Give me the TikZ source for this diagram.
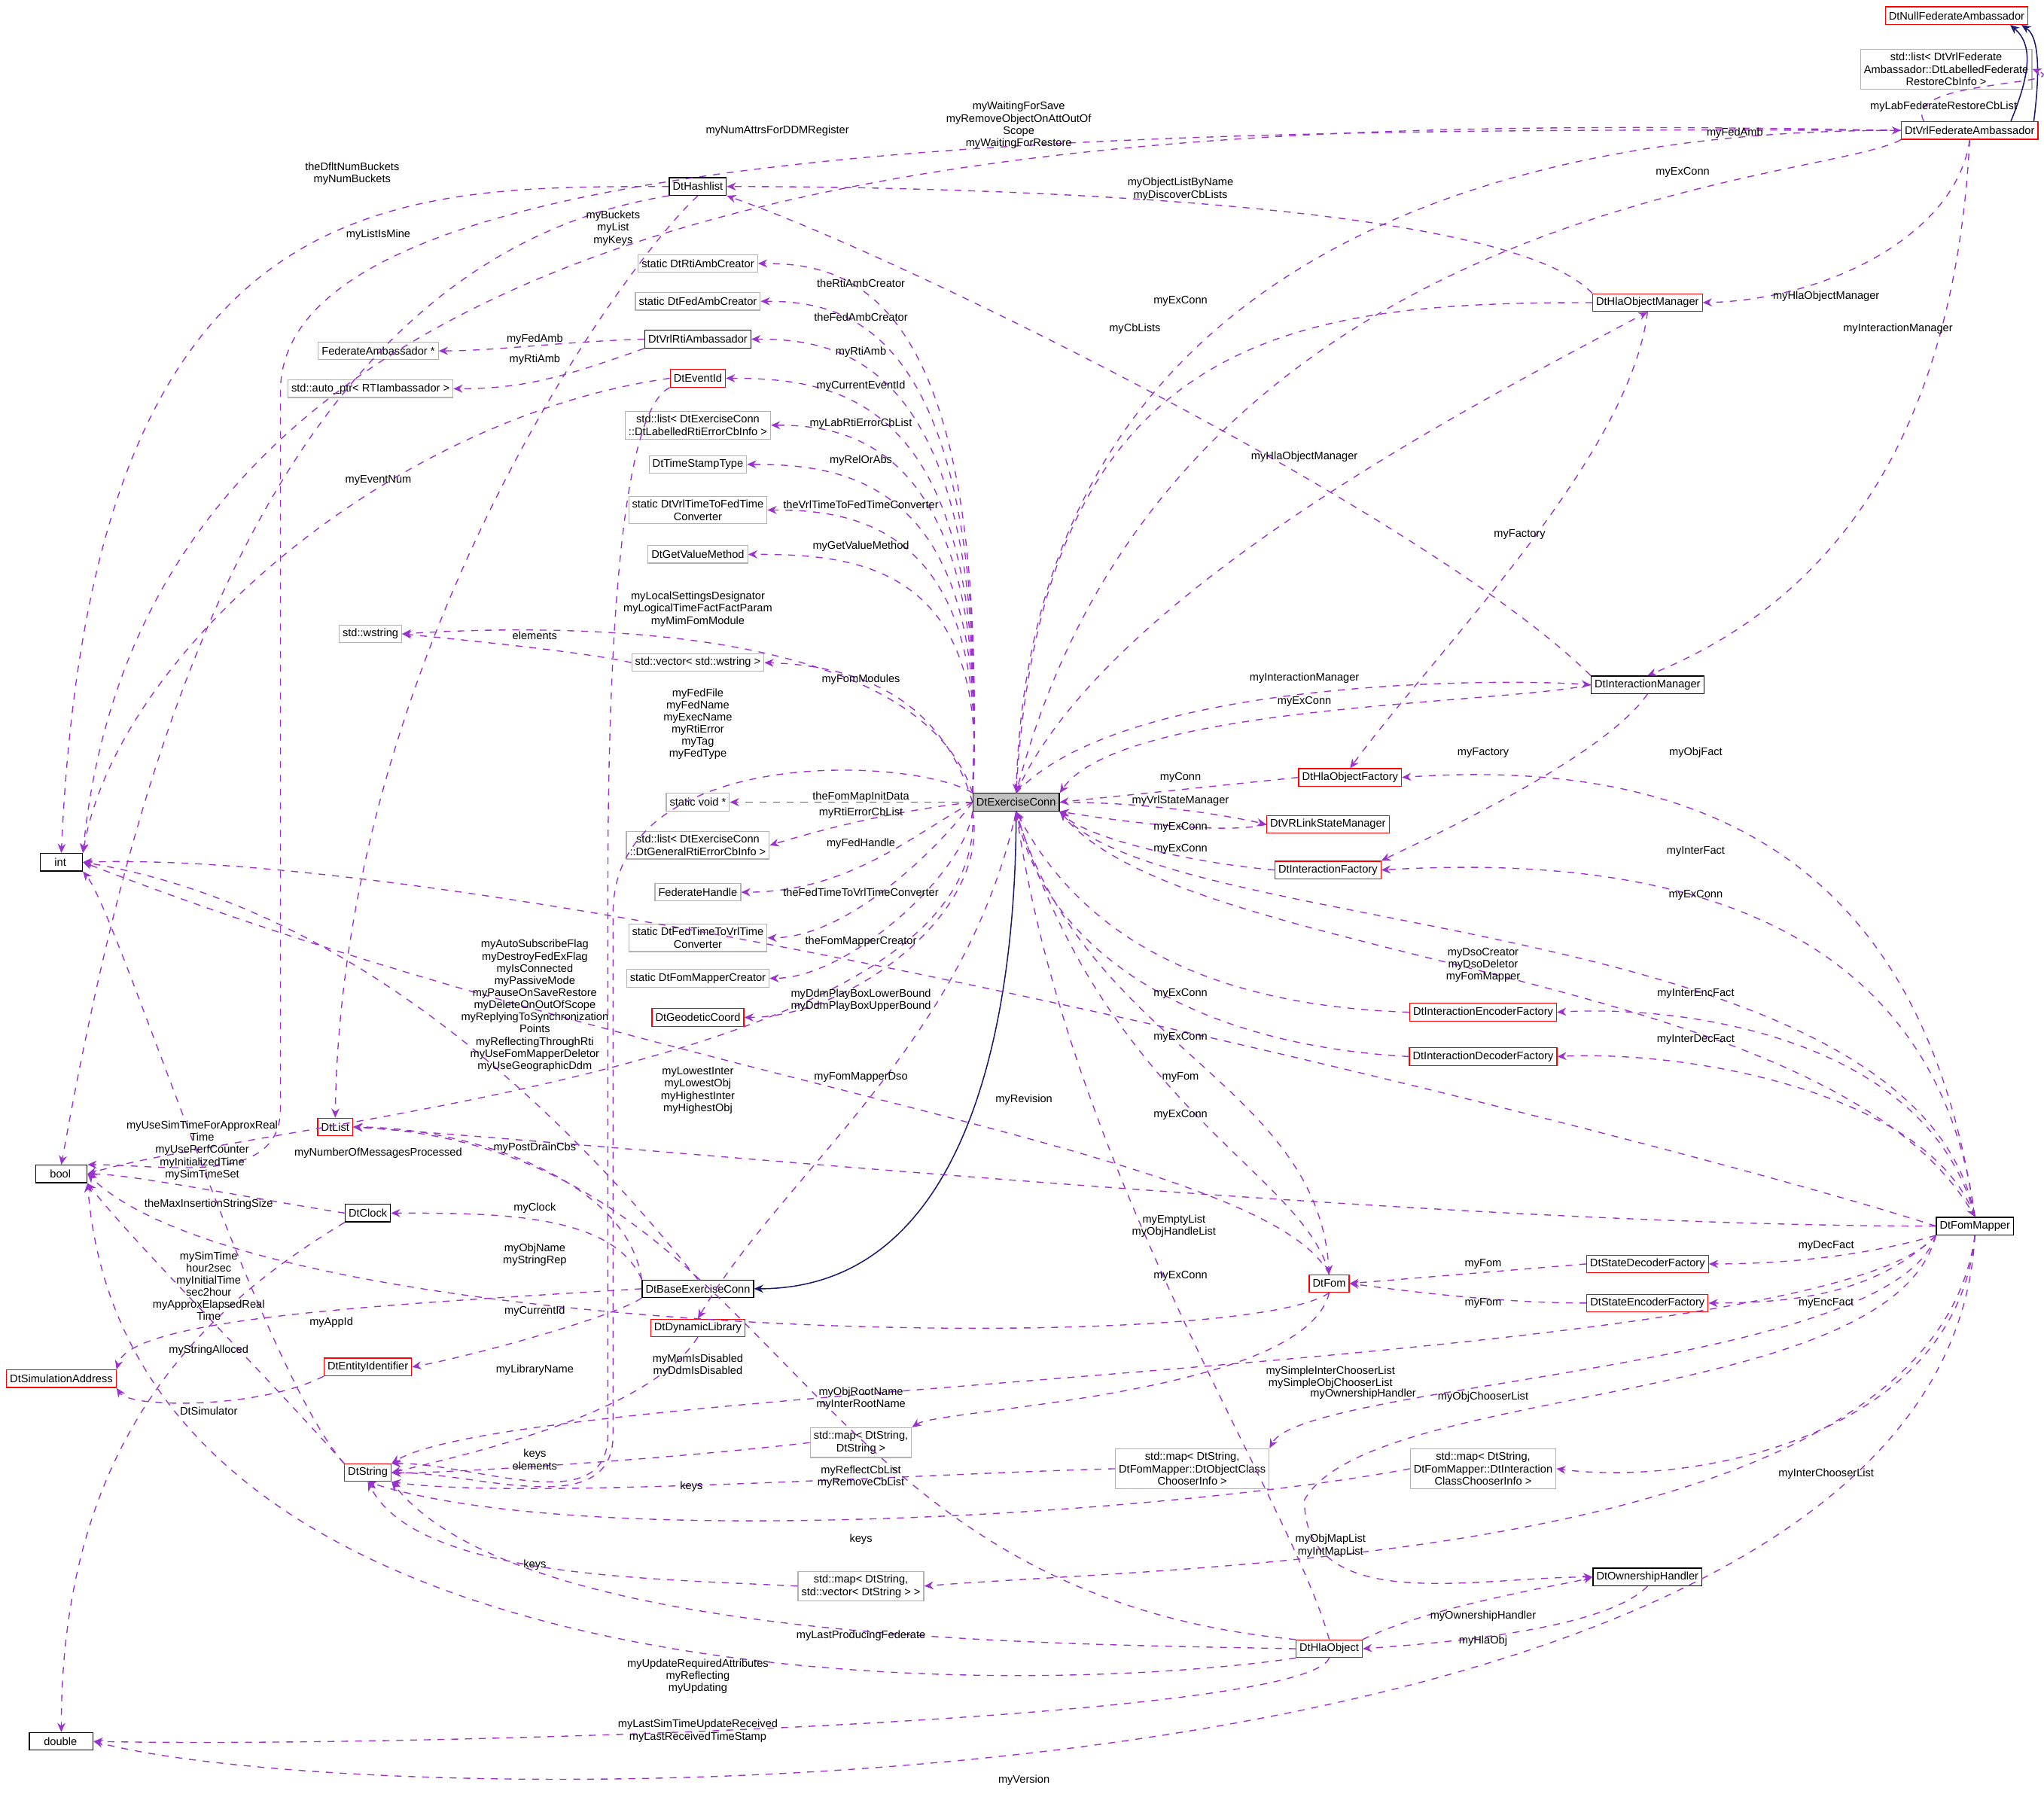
\documentclass[tikz,border=0pt]{standalone}
\usepackage{fontspec}
\setmainfont{Liberation Sans}
\usetikzlibrary{arrows.meta}
\definecolor{ec}{HTML}{9A32CD}
\definecolor{nv}{HTML}{191970}
\begin{document}
\begin{tikzpicture}[x=0.02cm,y=-0.02cm,
 font=\fontsize{4.8}{5.5}\selectfont,
 b/.style={draw=black,fill=white,inner sep=1.5pt,minimum height=0.27cm,align=center,line width=0.4pt},
 r/.style={b,draw=red},
 g/.style={b,draw=black!30},
 m/.style={b,fill=black!25},
 e/.style={draw=ec,dashed,line width=0.45pt,-{Stealth[length=4pt,width=3.5pt]}},
 n/.style={draw=nv,line width=0.5pt,-{Stealth[length=4pt,width=3.5pt]}},
 l/.style={align=center,inner sep=0pt,font=\fontsize{4.8}{5.3}\selectfont}]
\useasboundingbox (0,0) rectangle (1567,1375);
% nodes
\node[r] (nfa) at (1500,12) {DtNullFederateAmbassador};
\node[g] (lfr) at (1492,53) {std::list< DtVrlFederate\\Ambassador::DtLabelledFederate\\RestoreCbInfo >};
\node[r] (vfa) at (1510,100) {DtVrlFederateAmbassador};
\node[b] (int) at (47,661) {\quad int\quad\,};
\node[b] (hash) at (535,143) {DtHashlist};
\node[g] (rac) at (535,202) {static DtRtiAmbCreator};
\node[g] (fac) at (535,231) {static DtFedAmbCreator};
\node[g] (fap) at (290,269) {FederateAmbassador *};
\node[b] (vra) at (535,260) {DtVrlRtiAmbassador};
\node[g] (ap) at (284,298) {std::auto\_ptr< RTIambassador >};
\node[r] (eid) at (535,290) {DtEventId};
\node[g] (lle) at (535,326) {std::list< DtExerciseConn\\::DtLabelledRtiErrorCbInfo >};
\node[g] (tst) at (535,356) {DtTimeStampType};
\node[g] (vtf) at (535,391) {static DtVrlTimeToFedTime\\Converter};
\node[g] (gvm) at (535,425) {DtGetValueMethod};
\node[g] (ws) at (284,486) {std::wstring};
\node[g] (vws) at (535,508) {std::vector< std::wstring >};
\node[m] (ec) at (779,615) {DtExerciseConn};
\node[g] (sv) at (535,615) {static void *};
\node[g] (lge) at (535,648) {std::list< DtExerciseConn\\::DtGeneralRtiErrorCbInfo >};
\node[g] (fh) at (535,684) {FederateHandle};
\node[g] (ftv) at (535,719) {static DtFedTimeToVrlTime\\Converter};
\node[g] (fmc) at (535,750) {static DtFomMapperCreator};
\node[r] (geo) at (535,780) {DtGeodeticCoord};
\node[r] (hom) at (1263,232) {DtHlaObjectManager};
\node[b] (im) at (1263,525) {DtInteractionManager};
\node[r] (hof) at (1035,596) {DtHlaObjectFactory};
\node[r] (vsm) at (1018,632) {DtVRLinkStateManager};
\node[r] (ifa) at (1018,667) {DtInteractionFactory};
\node[r] (ief) at (1137,776) {DtInteractionEncoderFactory};
\node[r] (idf) at (1137,810) {DtInteractionDecoderFactory};
\node[b] (fm) at (1514,940) {DtFomMapper};
\node[b] (bool) at (47,900) {\quad bool\quad\,};
\node[r] (list) at (257,864) {DtList};
\node[b] (clk) at (282,930) {DtClock};
\node[b] (bec) at (535,988) {DtBaseExerciseConn};
\node[r] (sdf) at (1263,969) {DtStateDecoderFactory};
\node[r] (sef) at (1263,999) {DtStateEncoderFactory};
\node[r] (fom) at (1019,984) {DtFom};
\node[r] (dl) at (535,1018) {DtDynamicLibrary};
\node[r] (sa) at (47,1057) {DtSimulationAddress};
\node[r] (ent) at (282,1048) {DtEntityIdentifier};
\node[r] (str) at (282,1129) {DtString};
\node[g] (mss) at (660,1106) {std::map< DtString,\\DtString >};
\node[g] (moc) at (914,1126) {std::map< DtString,\\DtFomMapper::DtObjectClass\\ChooserInfo >};
\node[g] (mic) at (1137,1126) {std::map< DtString,\\DtFomMapper::DtInteraction\\ClassChooserInfo >};
\node[g] (msv) at (660,1216) {std::map< DtString,\\std::vector< DtString > >};
\node[b] (own) at (1263,1209) {DtOwnershipHandler};
\node[r] (ho) at (1019,1264) {DtHlaObject};
\node[b] (dbl) at (47,1335) {\quad double\quad\,};
% inheritance
\draw[n] ([xshift=28]vfa.north) .. controls (1562,70) and (1566,30) .. ([xshift=-3]nfa.south east);
\draw[n] ([xshift=18]vfa.north) .. controls (1555,60) and (1560,35) .. ([xshift=-8]nfa.south east);
\draw[n] (ec.south) to[out=-90,in=0] (bec.east);
% edges
\draw[e] ([xshift=-20]vfa.north) to[out=120,in=-20] (lfr.east);
\draw[e] (vfa.west) .. controls (900,90) and (120,90) .. (int.north east);
\draw[e] (vfa.west) .. controls (900,98) and (215,100) .. (215,300) -- (215,850) to[out=-90,in=0] (bool.north east);
\draw[e] (ec.north) .. controls (790,120) and (1300,100) .. (vfa.west);
\draw[e] (vfa.south west) .. controls (1400,140) and (900,150) .. (ec.north);
\draw[e] (vfa.south) .. controls (1500,180) and (1400,230) .. (hom.east);
\draw[e] (vfa.south) .. controls (1500,300) and (1430,450) .. (im.north);
\draw[e] (hom.north west) .. controls (1150,150) and (700,143) .. (hash.east);
\draw[e] (hom.west) .. controls (1000,232) and (800,250) .. (ec.north);
\draw[e] (ec.north) .. controls (850,450) and (1150,300) .. (hom.south);
\draw[e] (hom.south) .. controls (1250,350) and (1100,500) .. (hof.north);
\draw[e] (im.north west) .. controls (1100,400) and (700,200) .. (hash.south east);
\draw[e] (ec.north) .. controls (860,520) and (1150,520) .. (im.west);
\draw[e] (im.west) .. controls (1150,540) and (860,540) .. (ec.north east);
\draw[e] (im.south) .. controls (1230,580) and (1100,640) .. (ifa.north east);
\draw[e] (hof.west) -- (ec.east);
\draw[e] (ec.east) .. controls (880,615) and (940,625) .. (vsm.west);
\draw[e] (vsm.west) .. controls (940,640) and (860,630) .. (ec.south east);
\draw[e] (ifa.west) .. controls (900,660) and (830,640) .. (ec.south east);
\draw[e] (fm.north) .. controls (1480,700) and (1350,577) .. (hof.east);
\draw[e] (fm.north) .. controls (1490,750) and (1350,650) .. (ifa.east);
\draw[e] (fm.north) .. controls (1470,700) and (900,720) .. (ec.south east);
\draw[e] (ec.south east) .. controls (900,740) and (1400,740) .. (fm.north);
\draw[e] (ief.west) .. controls (900,770) and (820,700) .. (ec.south);
\draw[e] (fm.north) .. controls (1480,800) and (1300,770) .. (ief.east);
\draw[e] (idf.west) .. controls (900,800) and (800,720) .. (ec.south);
\draw[e] (fm.north) .. controls (1480,840) and (1300,805) .. (idf.east);
\draw[e] (fm.west) .. controls (1300,880) and (400,650) .. (int.east);
\draw[e] (fom.north) .. controls (1000,900) and (850,850) .. (ec.south);
\draw[e] (ec.south) .. controls (830,800) and (1010,830) .. (fom.north);
\draw[e] (fm.west) .. controls (1100,940) and (500,880) .. (list.east);
\draw[e] (fm.south west) .. controls (1440,960) and (1380,969) .. (sdf.east);
\draw[e] (fm.south west) .. controls (1440,990) and (1380,999) .. (sef.east);
\draw[e] (sdf.west) -- (fom.east);
\draw[e] (sef.west) .. controls (1150,999) and (1080,990) .. (fom.east);
\draw[e] (fom.north) .. controls (970,880) and (500,830) .. (int.east);
\draw[e] (fom.south) .. controls (950,1040) and (200,1030) .. (bool.east);
\draw[e] (fom.south) .. controls (1000,1070) and (720,1080) .. (mss.north east);
\draw[e] (fm.south west) .. controls (1450,1080) and (1050,1060) .. (1000,1150) to[out=-90,in=180] (own.west);
\draw[e] (fm.south west) .. controls (1450,1050) and (1000,1060) .. (moc.north east);
\draw[e] (fm.south) .. controls (1500,1100) and (1300,1140) .. (mic.east);
\draw[e] (fm.south west) .. controls (1400,1050) and (400,1060) .. (str.north east);
\draw[e] (fm.south) .. controls (1480,1200) and (900,1200) .. (msv.east);
\draw[e] (fm.south) .. controls (1490,1400) and (300,1395) .. (dbl.east);
\draw[e] (ho.north east) .. controls (1100,1230) and (1200,1215) .. (own.west);
\draw[e] (own.south) .. controls (1230,1250) and (1100,1260) .. (ho.east);
\draw[e] (ho.west) .. controls (800,1260) and (400,1260) .. (str.south east);
\draw[e] (ho.south west) .. controls (800,1300) and (100,1320) .. (bool.south east);
\draw[e] (ho.south) .. controls (1000,1320) and (300,1340) .. (dbl.east);
\draw[e] (ho.north) .. controls (990,1150) and (820,900) .. (ec.south);
\draw[e] (ho.north west) .. controls (600,1220) and (600,880) .. (list.east);
\draw[e] (mss.west) .. controls (500,1120) and (330,1130) .. (str.east);
\draw[e] (moc.west) .. controls (700,1130) and (400,1150) .. (str.south east);
\draw[e] (mic.west) .. controls (900,1160) and (450,1190) .. (str.south);
\draw[e] (msv.west) .. controls (500,1210) and (320,1210) .. (str.south);
\draw[e] (vws.west) .. controls (450,500) and (350,490) .. (ws.east);
\draw[e] (ec.north west) .. controls (700,470) and (400,480) .. (ws.east);
\draw[e] (ec.west) .. controls (720,530) and (650,510) .. (vws.east);
\draw[e] (ec.north west) .. controls (700,580) and (470,570) .. (470,700) -- (470,1100) to[out=-90,in=0] (str.east);
\draw[e] (ec.west) -- (sv.east);
\draw[e] (ec.west) .. controls (700,620) and (650,630) .. (lge.east);
\draw[e] (ec.west) .. controls (700,640) and (650,684) .. (fh.east);
\draw[e] (ec.west) .. controls (720,650) and (650,719) .. (ftv.east);
\draw[e] (ec.south west) .. controls (740,670) and (650,750) .. (fmc.east);
\draw[e] (ec.south west) .. controls (760,700) and (650,780) .. (geo.east);
\draw[e] (ec.south west) .. controls (760,820) and (200,860) .. (bool.east);
\draw[e] (ec.south) .. controls (740,800) and (600,900) .. (dl.north);
\draw[e] (bec.north) .. controls (470,900) and (300,700) .. (int.east);
\draw[e] (ec.north west) .. controls (760,220) and (650,202) .. (rac.east);
\draw[e] (ec.north west) .. controls (760,250) and (650,231) .. (fac.east);
\draw[e] (ec.north west) .. controls (760,280) and (650,260) .. (vra.east);
\draw[e] (ec.north west) .. controls (760,310) and (650,290) .. (eid.east);
\draw[e] (ec.north west) .. controls (760,340) and (650,326) .. (lle.east);
\draw[e] (ec.north west) .. controls (760,370) and (650,356) .. (tst.east);
\draw[e] (ec.north west) .. controls (760,400) and (650,391) .. (vtf.east);
\draw[e] (ec.north west) .. controls (760,430) and (650,425) .. (gvm.east);
\draw[e] (vra.west) .. controls (430,262) and (380,269) .. (fap.east);
\draw[e] (vra.south west) .. controls (430,290) and (400,298) .. (ap.east);
\draw[e] (eid.west) .. controls (300,320) and (90,500) .. (int.north east);
\draw[e] (eid.south west) .. controls (466,320) and (466,600) .. (466,700) -- (466,1100) to[out=-90,in=0] (str.north east);
\draw[e] (hash.west) .. controls (300,143) and (70,140) .. (int.north);
\draw[e] (hash.south west) .. controls (200,200) and (100,600) .. (bool.north);
\draw[e] (hash.south) .. controls (480,200) and (262,500) .. (list.north);
\draw[e] (bec.north west) .. controls (480,900) and (350,864) .. (list.east);
\draw[e] (bec.north west) .. controls (470,930) and (380,930) .. (clk.east);
\draw[e] (bec.south west) .. controls (470,1010) and (360,1040) .. (ent.east);
\draw[e] (bec.west) .. controls (300,1000) and (100,1010) .. (sa.north east);
\draw[e] (clk.west) .. controls (200,920) and (100,900) .. (bool.east);
\draw[e] (clk.south west) .. controls (160,1000) and (47,1100) .. (dbl.north);
\draw[e] (ent.south west) .. controls (200,1080) and (100,1080) .. (sa.south east);
\draw[e] (str.north west) .. controls (200,1050) and (90,700) .. (int.south east);
\draw[e] (str.north west) .. controls (200,1050) and (100,950) .. (bool.south east);
\draw[e] (dl.south) .. controls (500,1080) and (380,1110) .. (str.east);
% labels
\node[l] (a1) at (1490,82) {myLabFederateRestoreCbList};
\node[l] (a2) at (596,100) {myNumAttrsForDDMRegister};
\node[l] (a3) at (781,96) {myWaitingForSave\\myRemoveObjectOnAttOutOf\\Scope\\myWaitingForRestore};
\node[l] (a4) at (1330,102) {myFedAmb};
\node[l] (a5) at (1290,132) {myExConn};
\node[l] (a6) at (1400,227) {myHlaObjectManager};
\node[l] (a7) at (1455,252) {myInteractionManager};
\node[l] (a8) at (905,145) {myObjectListByName\\myDiscoverCbLists};
\node[l] (a9) at (905,231) {myExConn};
\node[l] (a10) at (1000,350) {myHlaObjectManager};
\node[l] (a11) at (1165,410) {myFactory};
\node[l] (a12) at (870,252) {myCbLists};
\node[l] (a13) at (1000,520) {myInteractionManager};
\node[l] (a14) at (1000,538) {myExConn};
\node[l] (a15) at (1137,577) {myFactory};
\node[l] (a16) at (905,596) {myConn};
\node[l] (a17) at (905,614) {myVrlStateManager};
\node[l] (a18) at (905,634) {myExConn};
\node[l] (a19) at (905,651) {myExConn};
\node[l] (a20) at (1300,577) {myObjFact};
\node[l] (a21) at (1300,653) {myInterFact};
\node[l] (a22) at (1300,686) {myExConn};
\node[l] (a23) at (1137,740) {myDsoCreator\\myDsoDeletor\\myFomMapper};
\node[l] (a24) at (905,762) {myExConn};
\node[l] (a25) at (1300,762) {myInterEncFact};
\node[l] (a26) at (905,795) {myExConn};
\node[l] (a27) at (1300,797) {myInterDecFact};
\node[l] (a28) at (785,843) {myRevision};
\node[l] (a29) at (905,826) {myFom};
\node[l] (a30) at (905,855) {myExConn};
\node[l] (a31) at (900,940) {myEmptyList\\myObjHandleList};
\node[l] (a32) at (1400,955) {myDecFact};
\node[l] (a33) at (1400,999) {myEncFact};
\node[l] (a34) at (1137,969) {myFom};
\node[l] (a35) at (1137,999) {myFom};
\node[l] (a36) at (535,836) {myLowestInter\\myLowestObj\\myHighestInter\\myHighestObj};
\node[l] (a37) at (535,1047) {myMomIsDisabled\\myDdmIsDisabled};
\node[l] (a38) at (660,1072) {myObjRootName\\myInterRootName};
\node[l] (a39) at (1045,1069) {myOwnershipHandler};
\node[l] (a40) at (1137,1071) {myObjChooserList};
\node[l] (a41) at (1400,1130) {myInterChooserList};
\node[l] (a42) at (1020,1056) {mySimpleInterChooserList\\mySimpleObjChooserList};
\node[l] (a43) at (1020,1185) {myObjMapList\\myIntMapList};
\node[l] (a44) at (785,1365) {myVersion};
\node[l] (a45) at (1137,1239) {myOwnershipHandler};
\node[l] (a46) at (1137,1258) {myHlaObj};
\node[l] (a47) at (660,1254) {myLastProducingFederate};
\node[l] (a48) at (535,1285) {myUpdateRequiredAttributes\\myReflecting\\myUpdating};
\node[l] (a49) at (535,1327) {myLastSimTimeUpdateReceived\\myLastReceivedTimeStamp};
\node[l] (a50) at (905,978) {myExConn};
\node[l] (a51) at (660,1132) {myReflectCbList\\myRemoveCbList};
\node[l] (a52) at (410,1119) {keys\\elements};
\node[l] (a53) at (530,1140) {keys};
\node[l] (a54) at (660,1180) {keys};
\node[l] (a55) at (410,1200) {keys};
\node[l] (a56) at (410,487) {elements};
\node[l] (a57) at (535,467) {myLocalSettingsDesignator\\myLogicalTimeFactFactParam\\myMimFomModule};
\node[l] (a58) at (660,521) {myFomModules};
\node[l] (a59) at (535,555) {myFedFile\\myFedName\\myExecName\\myRtiError\\myTag\\myFedType};
\node[l] (a60) at (660,611) {theFomMapInitData};
\node[l] (a61) at (660,623) {myRtiErrorCbList};
\node[l] (a62) at (660,647) {myFedHandle};
\node[l] (a63) at (660,684) {theFedTimeToVrlTimeConverter};
\node[l] (a64) at (660,722) {theFomMapperCreator};
\node[l] (a65) at (660,767) {myDdmPlayBoxLowerBound\\myDdmPlayBoxUpperBound};
\node[l] (a66) at (410,771) {myAutoSubscribeFlag\\myDestroyFedExFlag\\myIsConnected\\myPassiveMode\\myPauseOnSaveRestore\\myDeleteOnOutOfScope\\myReplyingToSynchronization\\Points\\myReflectingThroughRti\\myUseFomMapperDeletor\\myUseGeographicDdm};
\node[l] (a67) at (660,826) {myFomMapperDso};
\node[l] (a68) at (290,884) {myNumberOfMessagesProcessed};
\node[l] (a69) at (660,217) {theRtiAmbCreator};
\node[l] (a70) at (660,243) {theFedAmbCreator};
\node[l] (a71) at (660,270) {myRtiAmb};
\node[l] (a72) at (660,296) {myCurrentEventId};
\node[l] (a73) at (660,325) {myLabRtiErrorCbList};
\node[l] (a74) at (660,353) {myRelOrAbs};
\node[l] (a75) at (660,387) {theVrlTimeToFedTimeConverter};
\node[l] (a76) at (660,419) {myGetValueMethod};
\node[l] (a77) at (410,260) {myFedAmb};
\node[l] (a78) at (410,276) {myRtiAmb};
\node[l] (a79) at (290,368) {myEventNum};
\node[l] (a80) at (270,133) {theDfltNumBuckets\\myNumBuckets};
\node[l] (a81) at (290,180) {myListIsMine};
\node[l] (a82) at (470,175) {myBuckets\\myList\\myKeys};
\node[l] (a83) at (410,880) {myPostDrainCbs};
\node[l] (a84) at (410,926) {myClock};
\node[l] (a85) at (410,1005) {myCurrentId};
\node[l] (a86) at (254,1014) {myAppId};
\node[l] (a87) at (155,882) {myUseSimTimeForApproxReal\\Time\\myUsePerfCounter\\myInitializedTime\\mySimTimeSet};
\node[l] (a88) at (160,986) {mySimTime\\hour2sec\\myInitialTime\\sec2hour\\myApproxElapsedReal\\Time};
\node[l] (a89) at (160,1082) {DtSimulator};
\node[l] (a90) at (160,923) {theMaxInsertionStringSize};
\node[l] (a91) at (160,1035) {myStringAlloced};
\node[l] (a92) at (410,1050) {myLibraryName};
\node[l] (a93) at (410,962) {myObjName\\myStringRep};
\end{tikzpicture}
\end{document}
